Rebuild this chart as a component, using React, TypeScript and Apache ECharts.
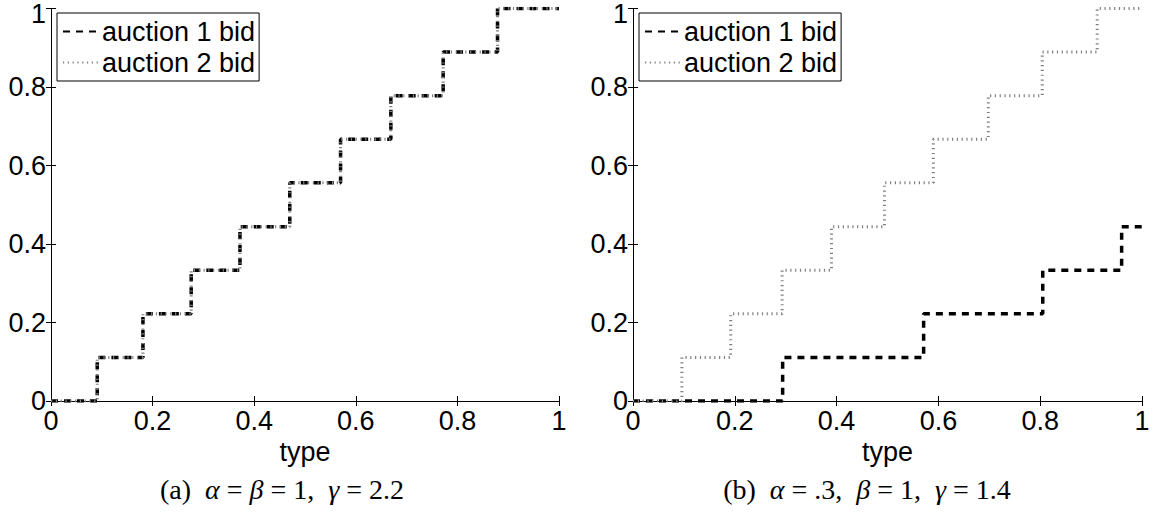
import React, { useEffect, useRef } from "react";
import * as echarts from "echarts";

// ---- data ----
const seriesNames = ["auction 1 bid", "auction 2 bid"];

// (a) alpha = beta = 1, gamma = 2.2  (both bids coincide)
const leftBid1X = [0, 0.091, 0.181, 0.276, 0.372, 0.47, 0.57, 0.669, 0.772, 0.879, 1];
const leftBid1Y = [0, 0.111, 0.222, 0.333, 0.444, 0.556, 0.667, 0.778, 0.889, 1, 1];
const leftBid2X = [0, 0.091, 0.181, 0.276, 0.372, 0.47, 0.57, 0.669, 0.772, 0.879, 1];
const leftBid2Y = [0, 0.111, 0.222, 0.333, 0.444, 0.556, 0.667, 0.778, 0.889, 1, 1];

// (b) alpha = .3, beta = 1, gamma = 1.4
const rightBid1X = [0, 0.294, 0.571, 0.805, 0.96, 1];
const rightBid1Y = [0, 0.111, 0.222, 0.333, 0.444, 0.444];
const rightBid2X = [0, 0.096, 0.192, 0.293, 0.39, 0.494, 0.59, 0.698, 0.804, 0.912, 1];
const rightBid2Y = [0, 0.111, 0.222, 0.333, 0.444, 0.556, 0.667, 0.778, 0.889, 1, 1];

const EQ = " = ";
const captions = [
  { label: "(a)", parts: [["i", "α"], ["n", EQ], ["i", "β"], ["n", EQ + "1,  "], ["i", "γ"], ["n", EQ + "2.2"]] },
  { label: "(b)", parts: [["i", "α"], ["n", EQ + ".3,  "], ["i", "β"], ["n", EQ + "1,  "], ["i", "γ"], ["n", EQ + "1.4"]] },
];

const zip = (xs: number[], ys: number[]) => xs.map((x, i) => [x, ys[i]]);

const SANS = "Liberation Sans, Arial, Helvetica, sans-serif";
const SERIF = "Liberation Serif, Times New Roman, serif";
const FS = 27;
const CFS = 28;

export default function App() {
  const ref = useRef<HTMLDivElement>(null);
  useEffect(() => {
    document.body.style.margin = "0";
    const chart = echarts.init(ref.current!, null, { renderer: "svg" });

    const grids = [
      { left: 51, top: 8, width: 508, height: 393 },
      { left: 633, top: 8, width: 509, height: 393 },
    ];

    const baseAxisLine = { show: true, lineStyle: { color: "#000", width: 1 } };
    const tick = { show: true, inside: true, length: 5, lineStyle: { color: "#000", width: 1 } };

    const xAxes: any[] = [];
    const yAxes: any[] = [];
    grids.forEach((_, gi) => {
      xAxes.push({
        type: "value", gridIndex: gi, position: "bottom", min: 0, max: 1, interval: 0.2,
        axisLine: baseAxisLine, axisTick: tick, splitLine: { show: false },
        axisLabel: { color: "#000", fontFamily: SANS, fontSize: FS, margin: 6 },
        name: "type", nameLocation: "middle", nameGap: 29,
        nameTextStyle: { color: "#000", fontFamily: SANS, fontSize: FS },
      });
      xAxes.push({
        type: "value", gridIndex: gi, position: "top", min: 0, max: 1, interval: 0.2,
        axisLine: baseAxisLine, axisTick: tick, splitLine: { show: false },
        axisLabel: { show: false },
      });
      yAxes.push({
        type: "value", gridIndex: gi, position: "left", min: 0, max: 1, interval: 0.2,
        axisLine: baseAxisLine, axisTick: tick, splitLine: { show: false },
        axisLabel: {
          color: "#000", fontFamily: SANS, fontSize: FS, margin: 5,
          formatter: (v: number) => (v === 1 ? "{top|1}" : String(v)),
          rich: { top: { fontFamily: SANS, fontSize: FS, color: "#000", padding: [10, 0, 0, 0] } },
        },
      });
      yAxes.push({
        type: "value", gridIndex: gi, position: "right", min: 0, max: 1, interval: 0.2,
        axisLine: baseAxisLine, axisTick: tick, splitLine: { show: false },
        axisLabel: { show: false },
      });
    });

    const bid1Style = { color: "#000", width: 3.5, type: [7, 6] };
    const bid2Style = { color: "#808080", width: 3, type: [1.2, 3.6] };

    const mk = (name: string, data: number[][], gi: number, style: any) => ({
      name, type: "line", step: "end", data, symbol: "none", showSymbol: false,
      xAxisIndex: gi * 2, yAxisIndex: gi * 2,
      lineStyle: style, itemStyle: { color: style.color },
      emphasis: { disabled: true },
    });

    const series = [
      mk(seriesNames[0], zip(leftBid1X, leftBid1Y), 0, bid1Style),
      mk(seriesNames[1], zip(leftBid2X, leftBid2Y), 0, bid2Style),
      mk(seriesNames[0], zip(rightBid1X, rightBid1Y), 1, bid1Style),
      mk(seriesNames[1], zip(rightBid2X, rightBid2Y), 1, bid2Style),
    ];

    const legends = grids.map((g) => ({
      orient: "vertical", left: g.left + 6, top: 13,
      data: seriesNames, itemWidth: 35, itemHeight: 14, itemGap: 4,
      padding: [5, 4, 5, 5], borderColor: "#000", borderWidth: 1, backgroundColor: "#fff",
      selectedMode: false,
      itemStyle: { opacity: 0 },
      textStyle: { color: "#000", fontFamily: SANS, fontSize: FS, padding: [0, 0, 0, -1] },
    }));

    const capCenters = [282, 867];
    const graphic = captions.map((c, i) => {
      const rich: any = {
        n: { fontFamily: SERIF, fontSize: CFS, fill: "#000" },
        i: { fontFamily: SERIF, fontSize: CFS, fontStyle: "italic", fill: "#000" },
      };
      const text = `{n|${c.label}  }` + c.parts.map(([k, s]) => `{${k}|${s}}`).join("");
      return {
        type: "text", x: capCenters[i], y: 489,
        style: { text, rich, textAlign: "center", textVerticalAlign: "middle", fill: "#000", font: `${CFS}px ${SERIF}` },
      };
    });

    chart.setOption({
      animation: false,
      backgroundColor: "#fff",
      grid: grids,
      xAxis: xAxes,
      yAxis: yAxes,
      series,
      legend: legends,
      graphic,
    });
    return () => chart.dispose();
  }, []);
  return <div ref={ref} style={{ width: 1155, height: 513 }} />;
}
